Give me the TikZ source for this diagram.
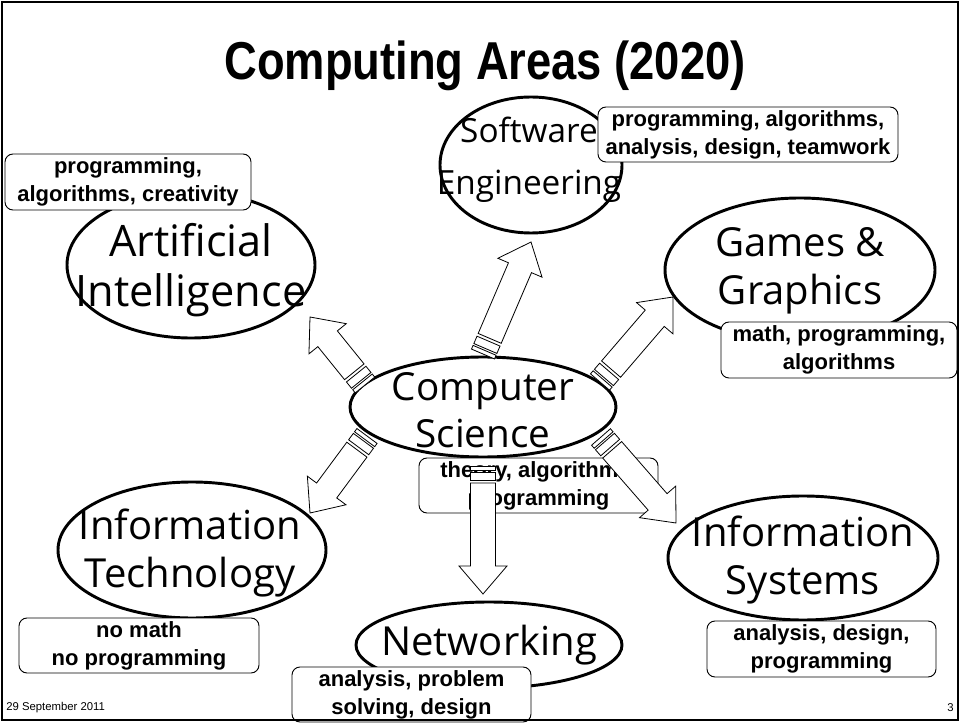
\documentclass[tikz,border=0pt]{standalone}
\usepackage{graphicx}
\usepackage{fontspec}
\setmainfont{Liberation Sans}
\newfontfamily\areafont{Open Sans}
\usetikzlibrary{shapes.geometric,calc}

\tikzset{
  area/.style={ellipse, draw, line width=2.2pt, inner sep=0pt},
  areatext/.style={font=\areafont\fontsize{30}{36}\selectfont, align=center, inner sep=0pt},
  note/.style={draw, line width=0.7pt, rounded corners=6pt, fill=white, align=center, inner sep=0pt,
    font=\bfseries\fontsize{16.5}{21}\selectfont},
  blockarrow/.style={draw, line width=0.6pt, fill=white, line join=miter},
}

% striped block arrow from tail #1 to tip #2
\newcommand{\stripedarrow}[2]{%
  \coordinate (sa1) at ($(#1)!3pt!(#2)$);
  \coordinate (sa2) at ($(#1)!4.5pt!(#2)$);
  \coordinate (sa3) at ($(#1)!10.5pt!(#2)$);
  \coordinate (sa4) at ($(#1)!12.75pt!(#2)$);
  \coordinate (sa5) at ($(#2)!21pt!(#1)$);
  \draw[blockarrow] ($(#1)!9.4pt!90:(#2)$) -- ($(sa1)!9.4pt!90:(#2)$) -- ($(sa1)!9.4pt!-90:(#2)$) -- ($(#1)!9.4pt!-90:(#2)$) -- cycle;
  \draw[blockarrow] ($(sa2)!9.4pt!90:(#2)$) -- ($(sa3)!9.4pt!90:(#2)$) -- ($(sa3)!9.4pt!-90:(#2)$) -- ($(sa2)!9.4pt!-90:(#2)$) -- cycle;
  \draw[blockarrow] ($(sa4)!9.4pt!90:(#2)$) -- ($(sa5)!9.4pt!90:(#2)$) -- ($(sa5)!18pt!90:(#2)$) -- (#2)
    -- ($(sa5)!18pt!-90:(#2)$) -- ($(sa5)!9.4pt!-90:(#2)$) -- ($(sa4)!9.4pt!-90:(#2)$) -- cycle;
}

\begin{document}
\begin{tikzpicture}[x=0.75pt,y=0.75pt,yscale=-1,xscale=1]
  \useasboundingbox (0,0) rectangle (960,723);

  % Title
  \node[font=\bfseries\fontsize{40}{46}\selectfont] (title) at (485,66) {\scalebox{0.85}[1]{Computing Areas (2020)}};

  %Shape: Ellipses
  \node[area, minimum width=136.5pt, minimum height=102pt] (se) at (531,165) {};
  \node[area, minimum width=186pt, minimum height=109.5pt] (ai) at (191,265) {};
  \node[area, minimum width=202.5pt, minimum height=108pt] (gg) at (800,270) {};
  \node[area, minimum width=199.5pt, minimum height=75pt] (cs) at (483,407) {};
  \node[area, minimum width=201pt, minimum height=102pt] (it) at (192,550) {};
  \node[area, minimum width=202.5pt, minimum height=93pt] (is) at (803,558) {};
  \node[area, minimum width=199.5pt, minimum height=64.5pt] (net) at (489,645) {};

  % Text Nodes
  \node[areatext, font=\areafont\fontsize{25}{39}\selectfont] (se-t) at (529,160) {Software\\Engineering};
  \node[areatext, font=\areafont\fontsize{32.5}{38}\selectfont] (ai-t) at (191,270) {Artificial\\Intelligence};
  \node[areatext] (gg-t) at (800,271) {Games \&\\Graphics};
  \node[areatext, font=\areafont\fontsize{29}{35}\selectfont] (cs-t) at (483,410) {Computer\\Science};
  \node[areatext] (it-t) at (190,553) {Information\\Technology};
  \node[areatext] (is-t) at (803,560) {Information\\Systems};
  \node[areatext] (net-t) at (489,645) {Networking};

  %Shape: Rounded boxes
  \node[note, minimum width=225pt, minimum height=41.25pt] (se-note) at (748,134.5) {programming, algorithms,\\analysis, design, teamwork};
  \node[note, minimum width=184.5pt, minimum height=42pt] (ai-note) at (128,182) {programming,\\algorithms, creativity};
  \node[note, minimum width=177pt, minimum height=42pt] (gg-note) at (839,350) {math, programming,\\algorithms};
  \node[note, minimum width=179.25pt, minimum height=41.25pt] (cs-note) at (538.5,485.5) {theory, algorithms,\\programming};
  \node[note, minimum width=180pt, minimum height=41.25pt] (it-note) at (139,645.5) {no math\\no programming};
  \node[note, minimum width=171.75pt, minimum height=42pt] (is-note) at (821.5,649) {analysis, design,\\programming};
  \node[note, minimum width=179.25pt, minimum height=41.25pt] (net-note) at (411.5,694.5) {analysis, problem\\solving, design};

  % Arrow ends
  \coordinate (se-tail) at ($(cs)+(0,-53)$);
  \coordinate (se-tip) at ($(se)+(0,77)$);
  \coordinate (net-tail) at ($(cs)+(0,59)$);
  \coordinate (net-tip) at ($(net)+(-6,-51)$);
  \coordinate (ai-tail) at ($(cs)+(-118,-22)$);
  \coordinate (ai-tip) at ($(ai)+(119,52)$);
  \coordinate (gg-tail) at ($(cs)+(117,-25)$);
  \coordinate (gg-tip) at ($(gg)+(-127,27)$);
  \coordinate (it-tail) at ($(cs)+(-116,29)$);
  \coordinate (it-tip) at ($(it)+(118,-37)$);
  \coordinate (is-tail) at ($(cs)+(118,30)$);
  \coordinate (is-tip) at ($(is)+(-127,-35)$);

  %Striped arrows
  \stripedarrow{se-tail}{se-tip}
  \stripedarrow{net-tail}{net-tip}
  \stripedarrow{ai-tail}{ai-tip}
  \stripedarrow{gg-tail}{gg-tip}
  \stripedarrow{it-tail}{it-tip}
  \stripedarrow{is-tail}{is-tip}

  % Footer
  \node[anchor=west, inner sep=0pt, font=\fontsize{8.5}{10}\selectfont] (date) at (6,708) {29 September 2011};
  \node[anchor=east, inner sep=0pt, font=\fontsize{8.5}{10}\selectfont] (page) at (954,708) {3};

  % Frame
  \draw[line width=2pt] (2,2) rectangle (958,720);
\end{tikzpicture}
\end{document}
